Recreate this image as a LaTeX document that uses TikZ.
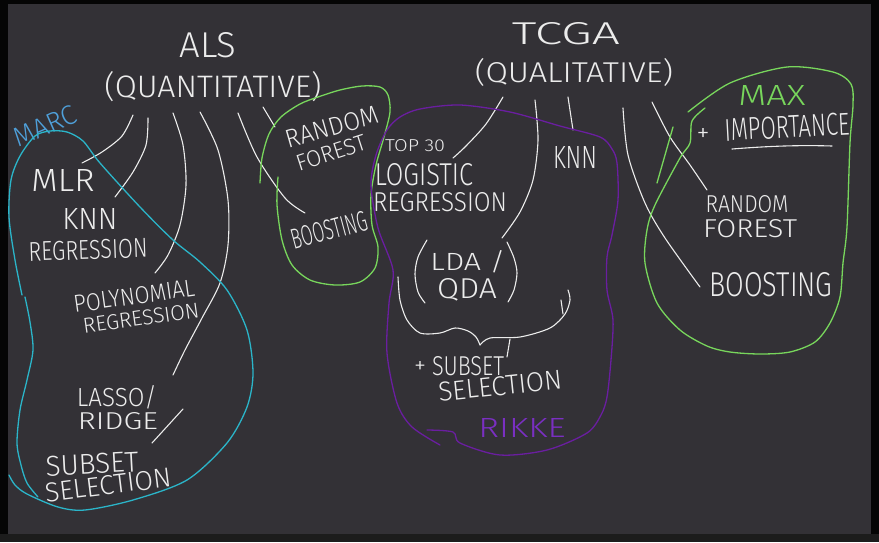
\documentclass[tikz,border=0pt]{standalone}
\usepackage{fontspec}
\IfFontExistsTF{Fira Sans Light}{\newfontfamily\hand{Fira Sans Light}}{\newfontfamily\hand{Open Sans}}
\definecolor{board}{HTML}{333136}
\definecolor{edge}{HTML}{050505}
\definecolor{strip}{HTML}{1C1C1C}
\definecolor{chalk}{HTML}{ECECEC}
\definecolor{cyanink}{HTML}{2BB5C9}
\definecolor{marcblue}{HTML}{4FA0DA}
\definecolor{greenink}{HTML}{78D65C}
\definecolor{purpleink}{HTML}{6A1EA0}
\definecolor{rikkeink}{HTML}{7A2FC2}
\newcommand\hw[3]{\resizebox{#1pt}{#2pt}{\hand #3}}
\begin{document}
\begin{tikzpicture}[x=1pt,y=-1pt,
  txt/.style={inner sep=0pt, text=chalk},
  stroke/.style={draw=chalk, line width=1.1pt, line cap=round, line join=round},
  blob/.style={line width=1.3pt, line cap=round, line join=round}]
\useasboundingbox (0,0) rectangle (879,542);
\fill[edge] (0,0) rectangle (879,542);
\fill[strip] (0,534) rectangle (879,542);
\fill[board] (8,4) rectangle (871,534);

% ---------- titles ----------
\node[txt] (als) at (208,45) {\hw{57}{25}{ALS}};
\node[txt] (quant) at (213,87) {\hw{217}{26}{(QUANTITATIVE)}};
\node[txt] (tcga) at (566,34) {\hw{108}{22}{TCGA}};
\node[txt] (qual) at (574,72) {\hw{198}{24}{(QUALITATIVE)}};

% ---------- ALS side ----------
\node[txt, text=marcblue, rotate=24] (marc) at (45,126) {\hw{66}{19}{MARC}};
\node[txt] (mlr) at (63,180) {\hw{63}{22}{MLR}};
\node[txt] (knn1) at (90,219) {\hw{55}{21}{KNN}};
\node[txt, rotate=2] (reg1) at (88,250) {\hw{119}{19}{REGRESSION}};
\node[txt, rotate=8] (poly) at (134,296) {\hw{122}{17}{POLYNOMIAL}};
\node[txt, rotate=8] (reg2) at (141,318) {\hw{117}{15}{REGRESSION}};
\node[txt] (lasso) at (117,397) {\hw{80}{21}{LASSO/}};
\node[txt] (ridge) at (118,421) {\hw{80}{17}{RIDGE}};
\node[txt, rotate=3] (subset1) at (92,464) {\hw{93}{20}{SUBSET}};
\node[txt, rotate=7] (selection1) at (108,485) {\hw{127}{19}{SELECTION}};

\node[txt, rotate=16] (random1) at (332,127) {\hw{95}{18}{RANDOM}};
\node[txt, rotate=18] (forest1) at (331,153) {\hw{72}{16}{FOREST}};
\node[txt, rotate=15] (boost1) at (329,230) {\hw{78}{20}{BOOSTING}};

% ---------- TCGA side ----------
\node[txt] (top30) at (415,146) {\hw{60}{12}{TOP 30}};
\node[txt] (logistic) at (424,175) {\hw{98}{22}{LOGISTIC}};
\node[txt] (reg3) at (440,202) {\hw{134}{19}{REGRESSION}};
\node[txt] (knn2) at (575,157) {\hw{44}{22}{KNN}};
\node[txt] (lda) at (468,262) {\hw{75}{20}{LDA /}};
\node[txt] (qda) at (467,290) {\hw{60}{20}{QDA}};
\node[txt] (plus1) at (420,367) {\hw{12}{12}{+}};
\node[txt] (subset2) at (468,366) {\hw{72}{19}{SUBSET}};
\node[txt, rotate=6] (selection2) at (500,386) {\hw{124}{19}{SELECTION}};
\node[txt, text=rikkeink] (rikke) at (522,428) {\hw{87}{19}{RIKKE}};

\node[txt, text=greenink] (max) at (772,95) {\hw{67}{20}{MAX}};
\node[txt] (plus2) at (703,135) {\hw{13}{13}{+}};
\node[txt, rotate=3] (importance) at (787,127) {\hw{125}{22}{IMPORTANCE}};
\node[txt] (random2) at (747,204) {\hw{83}{17}{RANDOM}};
\node[txt] (forest2) at (750,229) {\hw{94}{18}{FOREST}};
\node[txt] (boost2) at (771,285) {\hw{123}{24}{BOOSTING}};

% ---------- white strokes from ALS ----------
\draw[stroke] plot[smooth] coordinates {(133,115) (122,136) (102,152) (82,163)};
\draw[stroke] plot[smooth] coordinates {(148,118) (146,145) (133,172) (115,197)};
\draw[stroke] plot[smooth] coordinates {(173,113) (183,145) (186,185) (180,225) (168,255) (155,273)};
\draw[stroke] plot[smooth] coordinates {(200,112) (218,150) (228,200) (228,245) (220,283) (202,318) (185,350) (173,375)};
\draw[stroke] plot[smooth] coordinates {(238,113) (257,157) (285,198) (305,213)};
\draw[stroke] (263,107) -- (275,127);
\draw[stroke] (152,443) -- (183,409);

% ---------- white strokes from TCGA ----------
\draw[stroke] plot[smooth] coordinates {(503,97) (486,124) (466,146) (453,158)};
\draw[stroke] plot[smooth] coordinates {(535,100) (538,140) (533,180) (520,212) (502,238)};
\draw[stroke] (568,97) -- (573,130);
\draw[stroke] plot[smooth] coordinates {(623,108) (628,155) (645,203) (665,238) (700,287)};
\draw[stroke] plot[smooth] coordinates {(652,102) (670,137) (690,165) (707,190)};
\draw[stroke] (732,149) .. controls (770,146) and (800,145) .. (832,146);

% LDA/QDA parentheses and brace
\draw[stroke] plot[smooth] coordinates {(427,240) (418,257) (415,274) (418,292) (425,303)};
\draw[stroke] plot[smooth] coordinates {(507,242) (514,258) (517,273) (514,290) (508,302)};
\draw[stroke] plot[smooth] coordinates {(398,277) (400,300) (407,320) (420,333) (440,333) (455,328) (468,331) (476,337) (480,345)};
\draw[stroke] plot[smooth] coordinates {(480,345) (490,338) (520,337) (550,328) (565,314) (570,300) (568,290)};
\draw[stroke] (510,339) -- (507,357);
\draw[stroke] (561,300) -- (563,314);

% ---------- cyan region (MARC) ----------
\draw[blob, cyanink] plot[smooth] coordinates {(9,475) (15,485) (27,494) (58,507) (85,510) (133,500) (187,480) (227,443) (247,407) (253,373) (247,330) (227,290) (200,262) (173,240) (140,207) (100,163) (83,141) (67,132) (50,131) (35,136) (20,156) (11,180) (9,217) (15,260) (22,295)};
\draw[blob, cyanink] plot[smooth] coordinates {(25,297) (30,322) (33,350) (27,380) (20,410) (17,443) (21,465) (27,483) (38,497)};

% ---------- green regions ----------
\draw[blob, greenink] plot[smooth] coordinates {(260,183) (262,158) (269,134) (281,117) (300,104) (318,97) (340,90) (362,86) (380,87) (388,95) (390,112) (384,137) (376,165) (371,195) (372,225) (378,247) (375,268) (360,282) (335,285) (310,280) (292,265) (282,240) (277,205) (278,177)};
\draw[blob, greenink] plot[smooth] coordinates {(688,112) (730,83) (787,67) (833,72) (851,84) (853,105) (850,143) (847,227) (843,263) (840,297) (830,323) (815,342) (790,352) (760,354) (730,352) (707,346) (680,330) (657,303) (645,263) (647,230) (655,205) (680,158) (690,143) (692,121) (705,108)};
\draw[blob, greenink] (657,183) -- (673,127);

% ---------- purple region (RIKKE) ----------
\draw[blob, purpleink] plot[smooth] coordinates {(427,430) (453,432) (460,443) (500,455) (547,450) (587,433) (601,415) (607,397) (611,360) (613,320) (607,290) (607,257) (612,235) (618,200) (617,163) (612,149) (600,137) (560,126) (510,112) (460,105) (420,109) (400,117) (387,130) (376,155) (371,185) (378,228) (393,270) (389,303) (387,353) (397,403) (412,427) (440,445)};
\end{tikzpicture}
\end{document}
